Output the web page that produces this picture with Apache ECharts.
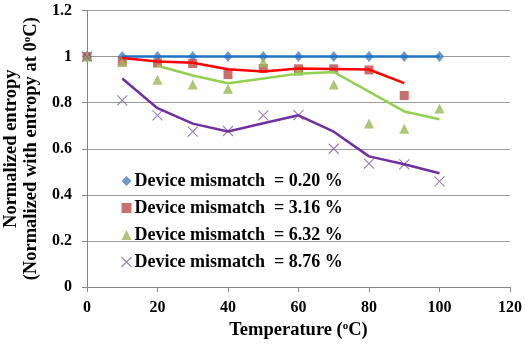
<!DOCTYPE html>
<html>
<head>
<meta charset="utf-8">
<script src="https://cdn.jsdelivr.net/npm/echarts@6/dist/echarts.min.js"></script>
<style>html,body{margin:0;padding:0;background:#fff}#c{width:525px;height:349px}</style>
</head>
<body>
<div id="c"></div>
<script>
// Data
var temperatures = [0, 10, 20, 30, 40, 50, 60, 70, 80, 90, 100];
var seriesNames = ['Device mismatch  = 0.20 %', 'Device mismatch  = 3.16 %', 'Device mismatch  = 6.32 %', 'Device mismatch  = 8.76 %'];
// markers
var m020 = [1, 1, 1, 1, 1, 1, 1, 1, 1, 1, 1];
var m316 = [1, 0.98, 0.972, 0.97, 0.922, 0.948, 0.947, 0.947, 0.942, 0.831, null];
var m632 = [1, 0.977, 0.90, 0.879, 0.86, 0.975, 0.939, 0.879, 0.71, 0.687, 0.775];
var m876 = [1, 0.81, 0.745, 0.674, 0.677, 0.745, 0.746, 0.60, 0.535, 0.532, 0.458];
// trend lines
var t020 = [null, 1, 1, 1, 1, 1, 1, 1, 1, 1, 1];
var t316 = [null, 0.994, 0.979, 0.973, 0.945, 0.935, 0.948, 0.946, 0.944, 0.885, null];
var t632 = [null, null, 0.960, 0.918, 0.884, 0.905, 0.926, 0.933, 0.848, 0.762, 0.728];
var t876 = [null, 0.905, 0.776, 0.709, 0.675, 0.711, 0.745, 0.674, 0.567, 0.533, 0.494];
var xTicks = [0, 20, 40, 60, 80, 100, 120];
var yTicks = [0, 0.2, 0.4, 0.6, 0.8, 1, 1.2];

function pairs(arr) {
  var out = [];
  for (var i = 0; i < temperatures.length; i++) {
    if (arr[i] !== null) out.push([temperatures[i], arr[i]]);
  }
  return out;
}

var markerColors = ['#4A7EBB', '#BE4B48', '#98B954', '#7D60A0'];
var lineColors = ['#1E73C6', '#FF0000', '#92D050', '#7030A0'];
var markers = [m020, m316, m632, m876];
var trends = [t020, t316, t632, t876];
var xPath = 'path://M0,0L10,10M10,0L0,10';
var symbols = ['diamond', 'rect', 'triangle', xPath];
var sizes = [[9, 11], 9, [10, 10], 10];

var font = '"Liberation Serif", "Times New Roman", serif';
var series = [];
for (var k = 0; k < 4; k++) {
  series.push({
    name: seriesNames[k] + '_t', type: 'line', data: pairs(trends[k]),
    showSymbol: false, symbol: 'none', silent: true, z: 3,
    lineStyle: { color: lineColors[k], width: 2.5 }, itemStyle: { color: lineColors[k] }
  });
}
for (var k = 0; k < 4; k++) {
  var st = k === 3 ? { color: 'none', borderColor: markerColors[k], borderWidth: 1.1 } : { color: markerColors[k] };
  series.push({
    name: seriesNames[k], type: 'scatter', data: pairs(markers[k]),
    symbol: symbols[k], symbolSize: sizes[k], itemStyle: st, z: 2
  });
}

var chart = echarts.init(document.getElementById('c'));
chart.setOption({
  animation: false,
  backgroundColor: '#fff',
  grid: { left: 87, right: 15, top: 10.5, bottom: 62, containLabel: false, outerBoundsMode: 'none' },
  legend: {
    data: seriesNames.map(function (n, i) {
      return { name: n, icon: symbols[i], itemStyle: i === 3 ? { color: 'none', borderColor: markerColors[3], borderWidth: 1.1 } : { color: markerColors[i] } };
    }),
    orient: 'vertical', left: 114, top: 167, itemGap: 9, itemWidth: 10, itemHeight: 10,
    textStyle: { fontFamily: font, fontWeight: 'bold', fontSize: 18, color: '#000', padding: [0, 0, 0, -2] },
    selectedMode: false
  },
  xAxis: {
    type: 'value', min: 0, max: 120, interval: 20,
    name: '{a|Temperature (}{s|o}{a|C)}', nameLocation: 'middle', nameGap: 34,
    nameTextStyle: { rich: { a: { fontFamily: font, fontWeight: 'bold', fontSize: 18.5, color: '#000' }, s: { fontFamily: font, fontWeight: 'bold', fontSize: 11, color: '#000', padding: [0, 0, 8, 0] } } },
    axisLine: { lineStyle: { color: '#868686', width: 1 } },
    axisTick: { show: true, inside: false, length: 5, lineStyle: { color: '#868686' } },
    axisLabel: { fontFamily: font, fontWeight: 'bold', fontSize: 16, color: '#000', margin: 13,
      formatter: function (v) { return xTicks.indexOf(v) >= 0 ? String(v) : ''; } },
    splitLine: { show: false }
  },
  yAxis: {
    type: 'value', min: 0, max: 1.2, interval: 0.2,
    name: '{a|Normalized entropy}\n{a|(Normalized with entropy at 0}{s|o}{a|C)}', nameLocation: 'middle', nameGap: 22.5,
    nameTextStyle: { lineHeight: 20, rich: { a: { fontFamily: font, fontWeight: 'bold', fontSize: 18.5, color: '#000', lineHeight: 20 }, s: { fontFamily: font, fontWeight: 'bold', fontSize: 11, color: '#000', padding: [0, 0, 8, 0] } } },
    axisLine: { show: true, lineStyle: { color: '#868686', width: 1 } },
    axisTick: { show: true, inside: false, length: 5, lineStyle: { color: '#868686' } },
    axisLabel: { fontFamily: font, fontWeight: 'bold', fontSize: 16, color: '#000', margin: 15,
      formatter: function (v) { var s = Math.round(v * 10) / 10; return yTicks.indexOf(s) >= 0 ? String(s) : ''; } },
    splitLine: { show: true, lineStyle: { color: '#9a9a9a', width: 1 } }
  },
  series: series
});
</script>
</body>
</html>
